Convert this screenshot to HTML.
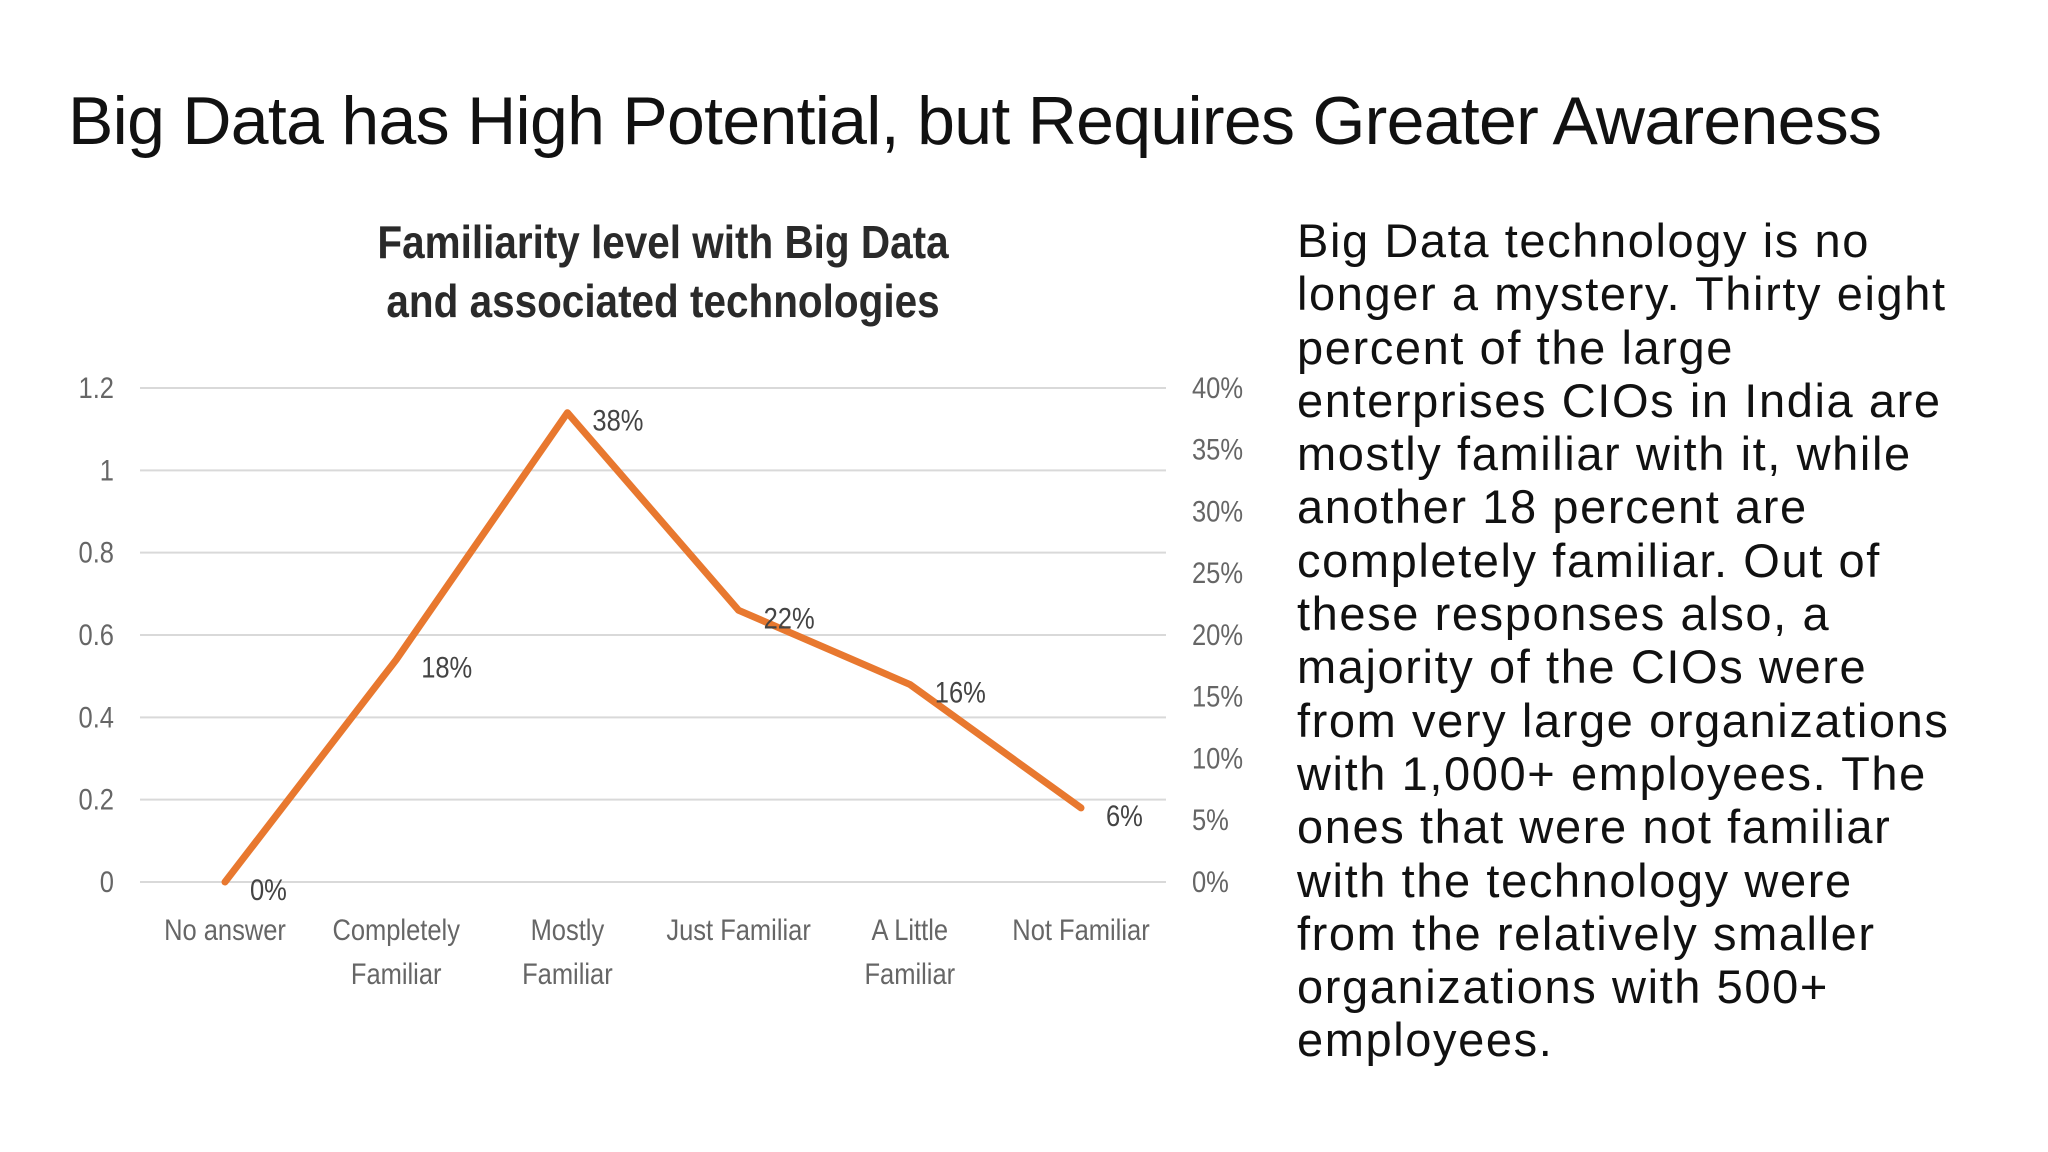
<!DOCTYPE html>
<html><head><meta charset="utf-8"><style>
body{margin:0;width:2048px;height:1152px;background:#fff;overflow:hidden;position:relative;font-family:"Liberation Sans",sans-serif}
#title{position:absolute;left:68px;top:82px;font-size:68px;color:#111;white-space:nowrap;letter-spacing:-0.7px}
#body{position:absolute;left:1297px;top:214px;font-size:47px;line-height:53.3px;color:#111;white-space:nowrap;letter-spacing:1.6px}
svg{position:absolute;left:0;top:0}
</style></head><body>
<div id="title">Big Data has High Potential, but Requires Greater Awareness</div>
<div id="body">Big Data technology is no<br>longer a mystery. Thirty eight<br>percent of the large<br>enterprises CIOs in India are<br>mostly familiar with it, while<br>another 18 percent are<br>completely familiar. Out of<br>these responses also, a<br>majority of the CIOs were<br>from very large organizations<br>with 1,000+ employees. The<br>ones that were not familiar<br>with the technology were<br>from the relatively smaller<br>organizations with 500+<br>employees.</div>
<svg id="chart" width="1260" height="1152"></svg>
<script>
const categories=[["No answer"],["Completely","Familiar"],["Mostly","Familiar"],["Just Familiar"],["A Little","Familiar"],["Not Familiar"]];
const values=[0,0.54,1.14,0.66,0.48,0.18];
const labels=["0%","18%","38%","22%","16%","6%"];
const leftTicks=[0,0.2,0.4,0.6,0.8,1,1.2];
const leftTickLabels=["0","0.2","0.4","0.6","0.8","1","1.2"];
const rightTickLabels=["0%","5%","10%","15%","20%","25%","30%","35%","40%"];
const NS="http://www.w3.org/2000/svg";
const svg=document.getElementById('chart');
const y0=882,y1=388,xL=140,xR=1166;
const y=v=>y0-(v/1.2)*(y0-y1);
const x=i=>225+i*171.2;
function el(t,a,txt){const e=document.createElementNS(NS,t);for(const k in a)e.setAttribute(k,a[k]);if(txt!==undefined)e.textContent=txt;svg.appendChild(e);return e;}
const sx=(cx,s)=>'translate('+cx+',0) scale('+s+',1) translate('+(-cx)+',0)';
const f='"Liberation Sans",sans-serif';
["Familiarity level with Big Data","and associated technologies"].forEach((s,i)=>{
const t=el('text',{x:663,y:258+i*59,'text-anchor':'middle','font-family':f,'font-weight':'bold','font-size':46,fill:'#2a2a2a',transform:sx(663,0.88)},s);


});
leftTicks.forEach((v,i)=>{
const g=el('line',{x1:xL,x2:xR,y1:y(v),y2:y(v),stroke:'#d9d9d9','stroke-width':2});


const t=el('text',{x:114,y:y(v)+10,'text-anchor':'end','font-family':f,'font-size':30,fill:'#666',transform:sx(114,0.85)},leftTickLabels[i]);


});
rightTickLabels.forEach((s,i)=>{
const t=el('text',{x:1192,y:y(i*1.2/8)+10,'font-family':f,'font-size':30,fill:'#666',transform:sx(1192,0.85)},s);


});
categories.forEach((c,i)=>{c.forEach((s,j)=>{
const t=el('text',{x:x(i),y:940+j*44,'text-anchor':'middle','font-family':f,'font-size':30,fill:'#666',transform:sx(x(i),0.85)},s);


});});
const p=el('polyline',{points:values.map((v,i)=>x(i)+','+y(v)).join(' '),fill:'none',stroke:'#e8782f','stroke-width':7,'stroke-linejoin':'round','stroke-linecap':'round'});


values.forEach((v,i)=>{
const t=el('text',{x:x(i)+25,y:y(v)+18,'font-family':f,'font-size':30,fill:'#444',transform:sx(x(i)+25,0.85)},labels[i]);


});
</script>
</body></html>
